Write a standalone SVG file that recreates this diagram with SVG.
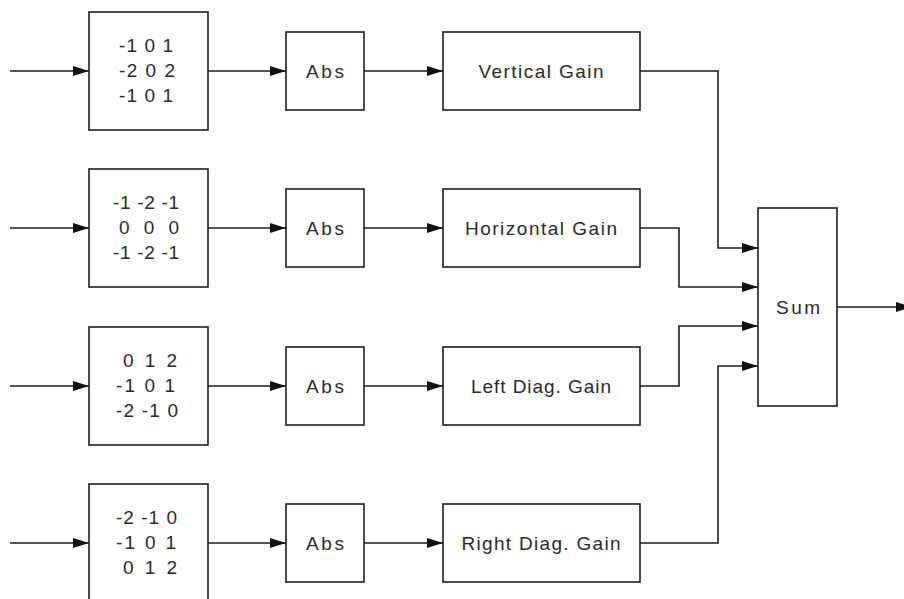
<svg xmlns="http://www.w3.org/2000/svg" width="904" height="599" viewBox="0 0 904 599">
  <style>
    .box { fill: #ffffff; stroke: #1e1e1e; stroke-width: 1.6; }
    .wire { fill: none; stroke: #1e1e1e; stroke-width: 1.6; }
    .lbl { font-family: "Liberation Sans", Arial, sans-serif; font-size: 19px; fill: #2a2a2a; }
    .mid { text-anchor: middle; }
  </style>
  <defs>
    <marker id="arrow" markerUnits="userSpaceOnUse" markerWidth="17" markerHeight="11" refX="16" refY="5" orient="auto">
      <path d="M0,0 L16,5 L0,10 Z" fill="#111111"/>
    </marker>
  </defs>
  <rect width="904" height="599" fill="#ffffff"/>

  <!-- connectors -->
  <g id="connectors" class="wire" marker-end="url(#arrow)">
    <path d="M10,71 H89"/>
    <path d="M208,71 H286"/>
    <path d="M364,71 H443"/>
    <path d="M10,228 H89"/>
    <path d="M208,228 H286"/>
    <path d="M364,228 H443"/>
    <path d="M10,386 H89"/>
    <path d="M208,386 H286"/>
    <path d="M364,386 H443"/>
    <path d="M10,543 H89"/>
    <path d="M208,543 H286"/>
    <path d="M364,543 H443"/>
    <path d="M640,71 H718 V248 H758"/>
    <path d="M640,228 H679 V287 H758"/>
    <path d="M640,386 H679 V326 H758"/>
    <path d="M640,543 H718 V366 H758"/>
    <path d="M837,307 H912"/>
  </g>

  <!-- vertical edge row -->
  <g id="kernel-vertical">
    <rect class="box" x="89" y="12" width="119" height="118"/>
    <text class="lbl" x="119" y="52" textLength="54" lengthAdjust="spacing" xml:space="preserve">-1 0 1</text>
    <text class="lbl" x="119" y="77" textLength="56" lengthAdjust="spacing" xml:space="preserve">-2 0 2</text>
    <text class="lbl" x="119" y="102" textLength="54" lengthAdjust="spacing" xml:space="preserve">-1 0 1</text>
  </g>
  <g id="abs-vertical">
    <rect class="box" x="286" y="32" width="78" height="78"/>
    <text class="lbl mid" x="325" y="78" textLength="38" lengthAdjust="spacing">Abs</text>
  </g>
  <g id="gain-vertical">
    <rect class="box" x="443" y="32" width="197" height="78"/>
    <text class="lbl mid" x="541" y="78" textLength="125" lengthAdjust="spacing">Vertical Gain</text>
  </g>

  <!-- horizontal edge row -->
  <g id="kernel-horizontal">
    <rect class="box" x="89" y="169" width="119" height="118"/>
    <text class="lbl" x="113" y="209" textLength="66" lengthAdjust="spacing" xml:space="preserve">-1 -2 -1</text>
    <text class="lbl" x="119" y="234" textLength="60" lengthAdjust="spacing" xml:space="preserve">0 0 0</text>
    <text class="lbl" x="113" y="259" textLength="66" lengthAdjust="spacing" xml:space="preserve">-1 -2 -1</text>
  </g>
  <g id="abs-horizontal">
    <rect class="box" x="286" y="189" width="78" height="78"/>
    <text class="lbl mid" x="325" y="235" textLength="38" lengthAdjust="spacing">Abs</text>
  </g>
  <g id="gain-horizontal">
    <rect class="box" x="443" y="189" width="197" height="78"/>
    <text class="lbl mid" x="541" y="235" textLength="152" lengthAdjust="spacing">Horizontal Gain</text>
  </g>

  <!-- left diagonal row -->
  <g id="kernel-left-diag">
    <rect class="box" x="89" y="327" width="119" height="118"/>
    <text class="lbl" x="123" y="367" textLength="54" lengthAdjust="spacing" xml:space="preserve">0 1 2</text>
    <text class="lbl" x="116" y="392" textLength="59" lengthAdjust="spacing" xml:space="preserve">-1 0 1</text>
    <text class="lbl" x="116" y="417" textLength="62" lengthAdjust="spacing" xml:space="preserve">-2 -1 0</text>
  </g>
  <g id="abs-left-diag">
    <rect class="box" x="286" y="347" width="78" height="78"/>
    <text class="lbl mid" x="325" y="393" textLength="38" lengthAdjust="spacing">Abs</text>
  </g>
  <g id="gain-left-diag">
    <rect class="box" x="443" y="347" width="197" height="78"/>
    <text class="lbl mid" x="541" y="393" textLength="140" lengthAdjust="spacing">Left Diag. Gain</text>
  </g>

  <!-- right diagonal row -->
  <g id="kernel-right-diag">
    <rect class="box" x="89" y="484" width="119" height="118"/>
    <text class="lbl" x="116" y="524" textLength="61" lengthAdjust="spacing" xml:space="preserve">-2 -1 0</text>
    <text class="lbl" x="116" y="549" textLength="60" lengthAdjust="spacing" xml:space="preserve">-1 0 1</text>
    <text class="lbl" x="123" y="574" textLength="54" lengthAdjust="spacing" xml:space="preserve">0 1 2</text>
  </g>
  <g id="abs-right-diag">
    <rect class="box" x="286" y="504" width="78" height="78"/>
    <text class="lbl mid" x="325" y="550" textLength="38" lengthAdjust="spacing">Abs</text>
  </g>
  <g id="gain-right-diag">
    <rect class="box" x="443" y="504" width="197" height="78"/>
    <text class="lbl mid" x="541" y="550" textLength="159" lengthAdjust="spacing">Right Diag. Gain</text>
  </g>

  <!-- summing block -->
  <g id="sum">
    <rect class="box" x="758" y="208" width="79" height="198"/>
    <text class="lbl mid" x="798" y="314" textLength="44" lengthAdjust="spacing">Sum</text>
  </g>
</svg>
